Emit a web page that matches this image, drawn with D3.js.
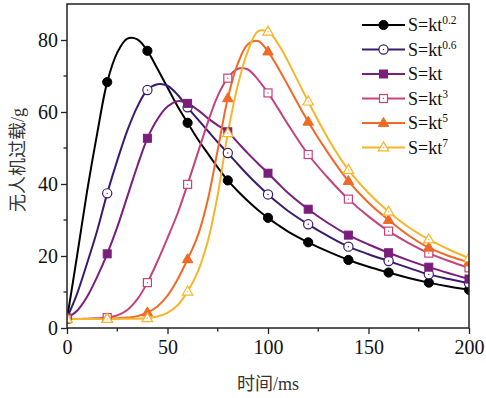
<!DOCTYPE html>
<html><head><meta charset="utf-8">
<script src="https://cdn.jsdelivr.net/npm/d3@7"></script>
<style>body{margin:0;background:#fff}svg{display:block}</style>
</head><body><svg id="c" width="486" height="398"></svg>
<script>
const times = [0,5,10,15,20,25,30,35,40,45,50,55,60,65,70,75,80,85,90,95,100,105,110,120,130,140,150,160,170,180,190,200];
const s02 = [2.5,20,38,54,68.3,76.5,80.4,80.2,77,72,66.8,61.6,57,52.5,48.5,44.6,41,38,35.3,32.8,30.6,28.6,26.8,23.8,21.2,18.9,17,15.4,13.9,12.6,11.5,10.6];
const s06 = [2.8,9.5,18,27,37.4,46.5,54.8,61.5,66.1,67.7,67.3,64.8,61.3,58,54.8,51.6,48.6,45.5,42.5,39.7,37.1,34.7,32.5,28.8,25.5,22.6,20.5,18.6,16.7,14.9,13.6,12.4];
const s1 = [2.8,4.8,8.7,14.2,20.6,28,36.5,45,52.7,58,61.5,63,62.4,60.6,58.3,56.3,54.5,51.5,48.5,45.7,43,40.2,37.5,33,29.1,25.8,23.2,20.9,18.8,16.9,15.2,13.6];
const s3 = [2.5,2.5,2.6,2.7,2.9,3.5,5,8,12.6,18.5,25,31.8,39.9,48.5,57,64.5,69.4,72,71.8,69,65.3,61,56.5,48.2,41.6,35.8,31,26.9,23.6,20.8,18.6,16.7];
const s5 = [2.5,2.5,2.5,2.5,2.6,2.7,2.9,3.3,4.3,6,9,13.5,19.1,25.5,35.5,49.5,63.8,73.5,78.8,79.7,76.8,72.3,67.3,57.3,48.5,40.8,34.8,30,25.7,22.3,20,18.2];
const s7 = [2.5,2.5,2.5,2.5,2.5,2.5,2.6,2.6,2.7,3.2,4.2,6.3,10.1,15.5,24,37,54.1,67.5,77,82.4,82.3,79,74,62.9,52.5,43.9,37.5,32.3,28,24.6,21.8,19.4];
const seriesNames = ["0.2","0.6","","3","5","7"];
const seriesValues = [s02,s06,s1,s3,s5,s7];
const colors = ["#000000","#3a1c6e","#7b1e7b","#c4437a","#f06a26","#f7b52a"];
const shapes = ["circle","circle","square","square","triangle","triangle"];
const filled = [true,false,true,false,true,false];
const xTicks = [0,50,100,150,200];
const yTicks = [0,20,40,60,80];

const svg = d3.select("#c");
const L=67,R=469,T=4,B=328;
const x = d3.scaleLinear().domain([0,200]).range([L,R]);
const y = d3.scaleLinear().domain([0,90]).range([B,T]);

svg.append("defs").append("clipPath").attr("id","clip")
  .append("rect").attr("x",L).attr("y",T).attr("width",R-L).attr("height",B-T);

const serif = "'Liberation Serif','Times New Roman',serif";
const cjk = "'Noto Sans CJK SC',sans-serif";

function marker(g, shape, fill, color, cx, cy){
  let el;
  if(shape==="circle"){
    el = g.append("circle").attr("cx",cx).attr("cy",cy).attr("r",4.6);
  } else if(shape==="square"){
    el = g.append("rect").attr("x",cx-4).attr("y",cy-4).attr("width",8).attr("height",8);
  } else {
    const h=9, w=10.5;
    el = g.append("path").attr("d",`M${cx},${cy-h*0.62}L${cx+w/2},${cy+h*0.38}L${cx-w/2},${cy+h*0.38}Z`);
  }
  el.attr("fill", fill?color:"#fff").attr("stroke",color).attr("stroke-width",fill?1:1.2);
  if(!fill) g.append("circle").attr("cx",cx).attr("cy",cy).attr("r",0.7).attr("fill",color);
}

const plot = svg.append("g").attr("clip-path","url(#clip)");
const line = d3.line().x((d,i)=>x(times[i])).y(d=>y(d)).curve(d3.curveCatmullRom.alpha(0.5));
seriesValues.forEach((vals,k)=>{
  plot.append("path").attr("d",line(vals)).attr("fill","none").attr("stroke",colors[k]).attr("stroke-width",2);
});
seriesValues.forEach((vals,k)=>{
  vals.forEach((v,i)=>{
    if(times[i]%20===0) marker(plot, shapes[k], filled[k], colors[k], x(times[i]), y(v));
  });
});

// frame
svg.append("rect").attr("x",L).attr("y",T).attr("width",R-L).attr("height",B-T)
  .attr("fill","none").attr("stroke","#222").attr("stroke-width",1.5);

// axes
const xAxis = d3.axisBottom(x).tickValues(xTicks).tickSize(6).tickPadding(6).tickFormat(d3.format("d"));
const gx = svg.append("g").attr("transform",`translate(0,${B})`).call(xAxis);
const yAxis = d3.axisLeft(y).tickValues(yTicks).tickSize(6).tickPadding(3).tickFormat(d3.format("d"));
const gy = svg.append("g").attr("transform",`translate(${L},0)`).call(yAxis);
[gx,gy].forEach(g=>{
  g.select(".domain").remove();
  g.selectAll(".tick line").attr("stroke","#222").attr("stroke-width",1.3);
  g.selectAll(".tick text").attr("fill","#111").style("font-family",serif).style("font-size","20px");
});
// minor ticks
svg.append("g").selectAll("line").data([25,75,125,175]).join("line")
  .attr("x1",d=>x(d)).attr("x2",d=>x(d)).attr("y1",B).attr("y2",B+3.5).attr("stroke","#222").attr("stroke-width",1.3);
svg.append("g").selectAll("line").data([10,30,50,70]).join("line")
  .attr("y1",d=>y(d)).attr("y2",d=>y(d)).attr("x1",L).attr("x2",L-3.5).attr("stroke","#222").attr("stroke-width",1.3);

// axis titles
svg.append("text").attr("x",(L+R)/2).attr("y",390).attr("text-anchor","middle")
  .style("font-size","18px").attr("fill","#333")
  .call(t=>{t.append("tspan").style("font-family",cjk).text("时间");t.append("tspan").style("font-family",serif).text("/ms");});
svg.append("text").attr("transform",`translate(24,${(T+B)/2-6}) rotate(-90)`).attr("text-anchor","middle")
  .style("font-size","18px").attr("fill","#333")
  .call(t=>{t.append("tspan").style("font-family",cjk).text("无人机过载");t.append("tspan").style("font-family",serif).text("/g");});

// legend
const rowsY = [25,49.5,74,98.5,123,147.5];
const leg = svg.append("g");
seriesNames.forEach((nm,k)=>{
  const yy = rowsY[k];
  leg.append("line").attr("x1",362).attr("x2",405).attr("y1",yy).attr("y2",yy).attr("stroke",colors[k]).attr("stroke-width",2);
  marker(leg, shapes[k], filled[k], colors[k], 383.5, yy);
  const t = leg.append("text").attr("x",408).attr("y",yy+6).style("font-family",serif).style("font-size","18px").attr("fill","#111");
  t.append("tspan").text("S=kt");
  if(nm) t.append("tspan").attr("dy",-7).style("font-size","11.5px").text(nm);
});
</script></body></html>
